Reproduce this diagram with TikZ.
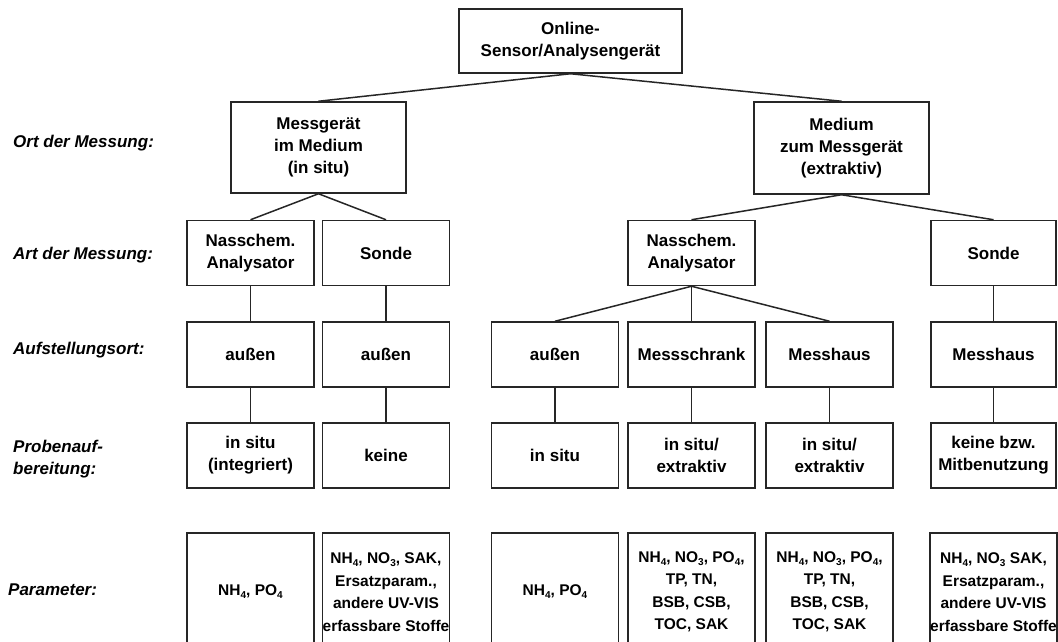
\documentclass[tikz,border=0pt]{standalone}
\usepackage{fontspec}
\setmainfont{Liberation Sans}
\newcommand{\chemsub}[1]{\raisebox{-0.35ex}{\fontsize{10}{10}\selectfont #1}}
\begin{document}
\begin{tikzpicture}[x=1pt,y=-1pt]
    \tikzstyle{box}=[draw=black!85,line width=1.5pt,fill=white,inner sep=0pt,
        minimum width=127pt,minimum height=65pt,align=center,
        font=\bfseries\fontsize{17}{22}\selectfont]
    \tikzstyle{parbox}=[box,minimum height=118pt,font=\bfseries\fontsize{15.5}{22.5}\selectfont]
    \tikzstyle{lab}=[anchor=west,align=left,inner sep=0pt,
        font=\bfseries\itshape\fontsize{17}{22}\selectfont]
    \tikzstyle{conn}=[draw=black!85,line width=1.5pt]
    \useasboundingbox (0,0) rectangle (1058,642);
    \clip (0,0) rectangle (1058,642);
    % Row labels
    \node[lab] (lort) at (13,143) {Ort der Messung:};
    \node[lab] (lart) at (13,255) {Art der Messung:};
    \node[lab] (lauf) at (13,350) {Aufstellungsort:};
    \node[lab] (lpro) at (13,459) {Probenauf-\\bereitung:};
    \node[lab] (lpar) at (8,590) {Parameter:};
    % Top
    \node[box,minimum width=223pt,minimum height=64pt] (sensor) at (570.5,41) {Online-\\Sensor/Analysengerät};
    % Ort der Messung
    \node[box,minimum width=175pt,minimum height=91pt] (insitu) at (318.5,147.5) {Messgerät\\im Medium\\(in situ)};
    \node[box,minimum width=175pt,minimum height=92pt] (extrakt) at (841.5,148) {Medium\\zum Messgerät\\(extraktiv)};
    % Art der Messung
    \node[box] (nasA) at (250.5,253) {Nasschem.\\Analysator};
    \node[box] (sonA) at (386,253) {Sonde};
    \node[box] (nasB) at (691.5,253) {Nasschem.\\Analysator};
    \node[box,minimum width=125pt] (sonB) at (993.5,253) {Sonde};
    % Aufstellungsort
    \node[box] (ortA) at (250.5,354.5) {außen};
    \node[box] (ortB) at (386,354.5) {außen};
    \node[box] (ortC) at (555,354.5) {außen};
    \node[box] (ortD) at (691.5,354.5) {Messschrank};
    \node[box] (ortE) at (829.5,354.5) {Messhaus};
    \node[box,minimum width=125pt] (ortF) at (993.5,354.5) {Messhaus};
    % Probenaufbereitung
    \node[box] (proA) at (250.5,455.5) {in situ\\(integriert)};
    \node[box] (proB) at (386,455.5) {keine};
    \node[box] (proC) at (555,455.5) {in situ};
    \node[box] (proD) at (691.5,455.5) {in situ/\\extraktiv};
    \node[box] (proE) at (829.5,455.5) {in situ/\\extraktiv};
    \node[box,minimum width=125pt] (proF) at (993.5,455.5) {keine bzw.\\Mitbenutzung};
    % Parameter
    \node[parbox] (parA) at (250.5,592) {NH\chemsub{4}, PO\chemsub{4}};
    \node[parbox] (parB) at (386,592) {NH\chemsub{4}, NO\chemsub{3}, SAK,\\Ersatzparam.,\\andere UV-VIS\\erfassbare Stoffe};
    \node[parbox] (parC) at (555,592) {NH\chemsub{4}, PO\chemsub{4}};
    \node[parbox] (parD) at (691.5,592) {NH\chemsub{4}, NO\chemsub{3}, PO\chemsub{4},\\TP, TN,\\BSB, CSB,\\TOC, SAK};
    \node[parbox] (parE) at (829.5,592) {NH\chemsub{4}, NO\chemsub{3}, PO\chemsub{4},\\TP, TN,\\BSB, CSB,\\TOC, SAK};
    \node[parbox,minimum width=125pt] (parF) at (993.5,592) {NH\chemsub{4}, NO\chemsub{3} SAK,\\Ersatzparam.,\\andere UV-VIS\\erfassbare Stoffe};
    % Lines
    \draw[conn] (sensor.south) -- (insitu.north);
    \draw[conn] (sensor.south) -- (extrakt.north);
    \draw[conn] (insitu.south) -- (nasA.north);
    \draw[conn] (insitu.south) -- (sonA.north);
    \draw[conn] (extrakt.south) -- (nasB.north);
    \draw[conn] (extrakt.south) -- (sonB.north);
    \draw[conn] (nasA.south) -- (ortA.north);
    \draw[conn] (sonA.south) -- (ortB.north);
    \draw[conn] (nasB.south) -- (ortC.north);
    \draw[conn] (nasB.south) -- (ortD.north);
    \draw[conn] (nasB.south) -- (ortE.north);
    \draw[conn] (sonB.south) -- (ortF.north);
    \draw[conn] (ortA.south) -- (proA.north);
    \draw[conn] (ortB.south) -- (proB.north);
    \draw[conn] (ortC.south) -- (proC.north);
    \draw[conn] (ortD.south) -- (proD.north);
    \draw[conn] (ortE.south) -- (proE.north);
    \draw[conn] (ortF.south) -- (proF.north);
\end{tikzpicture}
\end{document}
